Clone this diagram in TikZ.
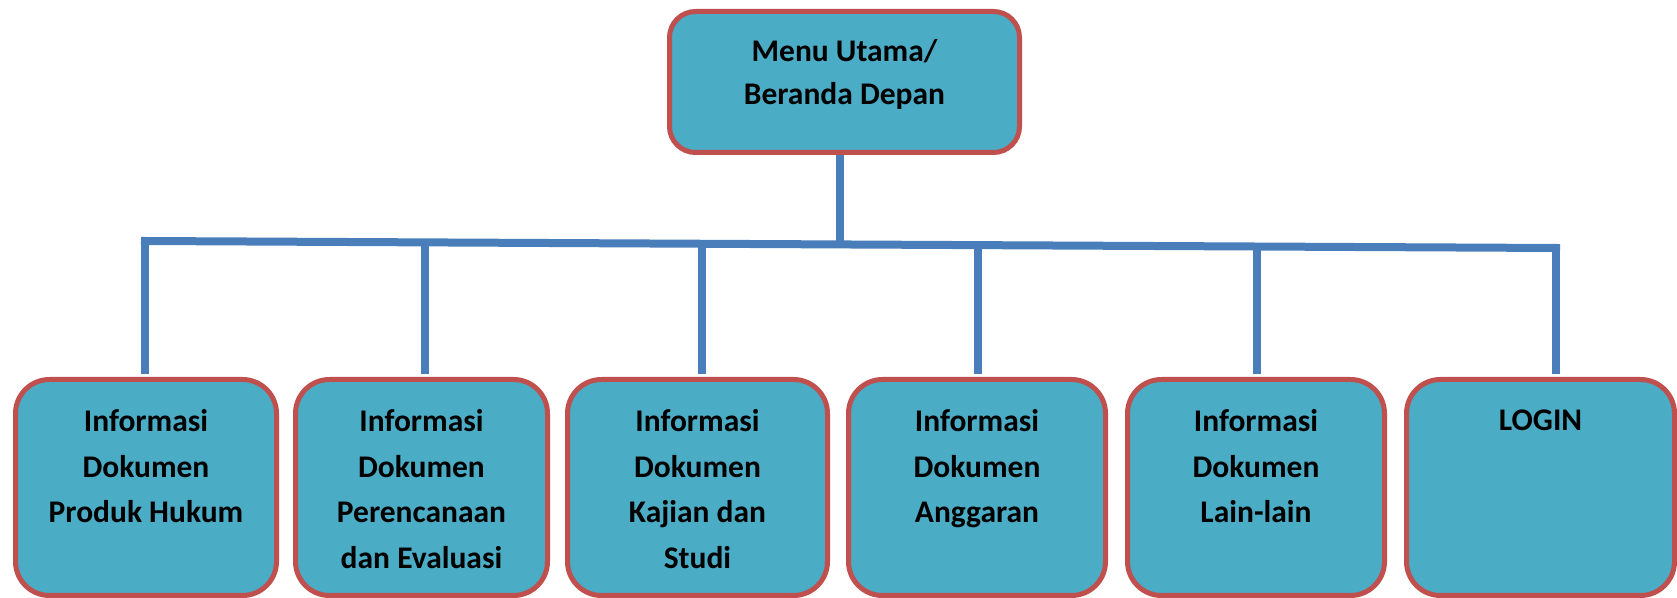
\documentclass[tikz,border=0pt]{standalone}
\usepackage{fontspec}
\setmainfont{Carlito}
\usepackage{tikz}
\usetikzlibrary{positioning}
\definecolor{boxfill}{HTML}{4BACC6}
\definecolor{boxline}{HTML}{C0504D}
\definecolor{linkblue}{HTML}{4A7EBB}
\begin{document}
\begin{tikzpicture}[x=0.5pt,y=-0.5pt,%
	menubox/.style={draw=boxline, fill=boxfill, line width=2.5pt,%
		rounded corners=17pt, inner sep=0pt,%
		minimum height=108pt},%
	menutext/.style={anchor=north, align=center, inner sep=0pt,%
		yshift=-16pt, text=black,%
		font=\fontsize{15.75}{22.75}\selectfont\bfseries},%
	link/.style={draw=linkblue, line width=4pt}]%
	\useasboundingbox (0,0) rectangle (1677,598);
	% root
	\node[menubox, minimum width=175pt, minimum height=70.5pt,%
		rounded corners=13pt,%
		label={[menutext, yshift=1pt, font=\fontsize{15.75}{21.5}\selectfont\bfseries]%
			north:{Menu Utama/\\Beranda Depan}}] (utama) at (844.5,82) {};
	% children
	\node[menubox, minimum width=130.5pt,%
		label={[menutext]north:{Informasi\\Dokumen\\Produk Hukum}}] (b1) at (146,487.5) {};
	\node[menubox, minimum width=126pt,%
		label={[menutext]north:{Informasi\\Dokumen\\Perencanaan\\dan Evaluasi}}] (b2) at (421.5,487.5) {};
	\node[menubox, minimum width=130pt,%
		label={[menutext]north:{Informasi\\Dokumen\\Kajian dan\\Studi}}] (b3) at (697.5,487.5) {};
	\node[menubox, minimum width=128.5pt,%
		label={[menutext]north:{Informasi\\Dokumen\\Anggaran}}] (b4) at (977,487.5) {};
	\node[menubox, minimum width=128.5pt,%
		label={[menutext]north:{Informasi\\Dokumen\\Lain-lain}}] (b5) at (1256,487.5) {};
	\node[menubox, minimum width=134pt,%
		label={[menutext]north:{LOGIN}}] (b6) at (1540.5,487.5) {};
	% junctions on the bar
	\coordinate (j1) at (145,241);
	\coordinate (j2) at (425,242.4);
	\coordinate (j3) at (702,243.8);
	\coordinate (jt) at (840,244.4);
	\coordinate (j4) at (978,245.1);
	\coordinate (j5) at (1257,246.5);
	\coordinate (j6) at (1556,248);
	% connectors
	\draw[link] (jt |- utama.south) -- (jt);
	\draw[link, line cap=rect] (j1) -- (j6);
	\foreach \i in {1,...,6}
		\draw[link, shorten >=1.25pt] (j\i) -- (j\i |- b\i.north);
\end{tikzpicture}
\end{document}
